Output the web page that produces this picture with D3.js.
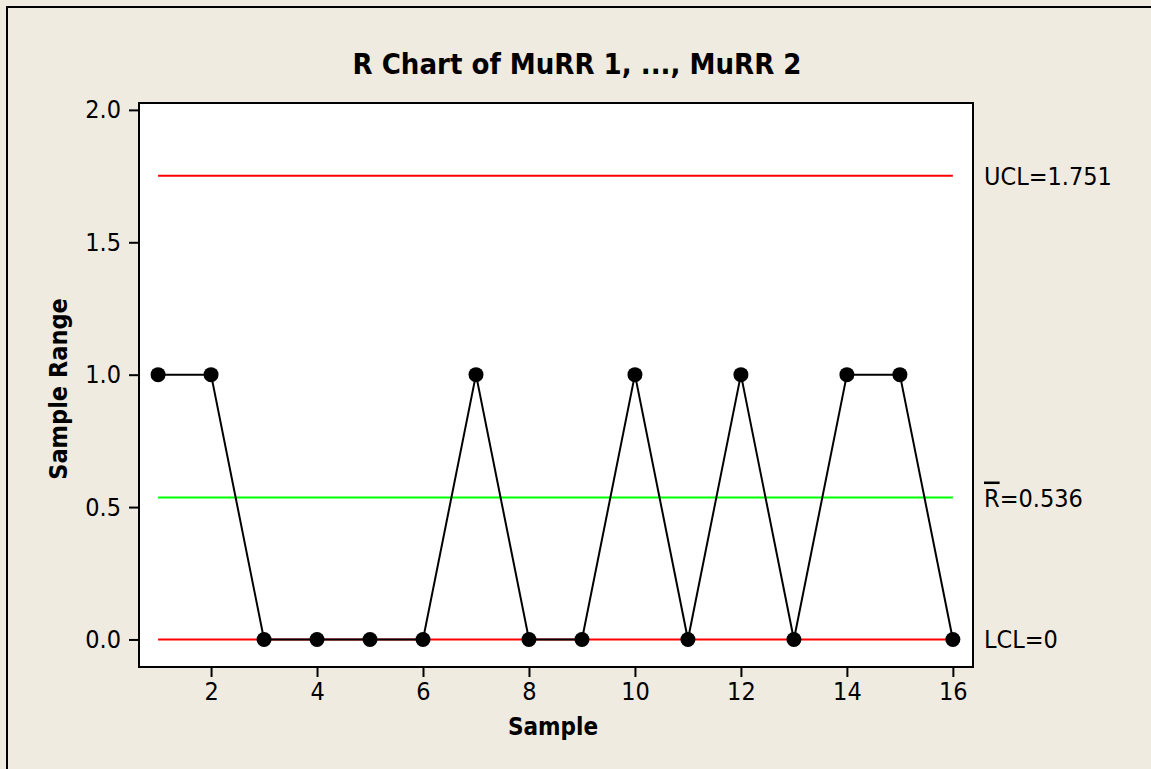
<!DOCTYPE html>
<html>
<head>
<meta charset="utf-8">
<script src="https://cdn.jsdelivr.net/npm/d3@7"></script>
<style>
  html, body { margin: 0; padding: 0; background: #F0EBE1; }
  svg text { font-family: "DejaVu Sans Condensed", "DejaVu Sans", sans-serif; font-stretch: condensed; fill: #000; }
</style>
</head>
<body>
<div id="chart"></div>
<script>
// dados do gráfico R
const samples = [1, 2, 3, 4, 5, 6, 7, 8, 9, 10, 11, 12, 13, 14, 15, 16];
const ranges = [1, 1, 0, 0, 0, 0, 1, 0, 0, 1, 0, 1, 0, 1, 1, 0];
const xTicks = [2, 4, 6, 8, 10, 12, 14, 16];
const yTicks = [0.0, 0.5, 1.0, 1.5, 2.0];
const limits = [
  { name: 'UCL', label: 'UCL=1.751', value: 1.751, color: '#FF0000' },
  { name: 'Rbar', label: '=0.536', value: 0.536, color: '#00FF00' },
  { name: 'LCL', label: 'LCL=0', value: 0, color: '#FF0000' }
];

const W = 1151, H = 769;
const plot = { left: 139, right: 973, top: 103, bottom: 667 };

const svg = d3.select('#chart').append('svg')
  .attr('width', W).attr('height', H);

// fundo e borda externa
svg.append('rect').attr('width', W).attr('height', H).attr('fill', '#F0EBE1');
svg.append('path')
  .attr('d', `M7,${H} V7 H${W}`)
  .attr('fill', 'none').attr('stroke', '#000').attr('stroke-width', 2);

const x = d3.scaleLinear().domain([0.64, 16.38]).range([plot.left, plot.right]);
const y = d3.scaleLinear().domain([-0.104, 2.026]).range([plot.bottom, plot.top]);

// área do gráfico
svg.append('rect')
  .attr('x', plot.left).attr('y', plot.top)
  .attr('width', plot.right - plot.left).attr('height', plot.bottom - plot.top)
  .attr('fill', '#fff');

// linhas de controle
svg.selectAll('.limit').data(limits).enter().append('line')
  .attr('x1', x(samples[0])).attr('x2', x(samples[samples.length - 1]))
  .attr('y1', d => y(d.value)).attr('y2', d => y(d.value))
  .attr('stroke', d => d.color).attr('stroke-width', 2);

// série
const line = d3.line().x((d, i) => x(samples[i])).y(d => y(d));
svg.append('path').datum(ranges)
  .attr('d', line).attr('fill', 'none')
  .attr('stroke', '#000').attr('stroke-width', 2);

svg.selectAll('.pt').data(ranges).enter().append('circle')
  .attr('cx', (d, i) => x(samples[i])).attr('cy', d => y(d))
  .attr('r', 7.5).attr('fill', '#000');

// moldura
svg.append('rect')
  .attr('x', plot.left).attr('y', plot.top)
  .attr('width', plot.right - plot.left).attr('height', plot.bottom - plot.top)
  .attr('fill', 'none').attr('stroke', '#000').attr('stroke-width', 2);

// eixos
const xAxis = svg.append('g')
  .attr('transform', `translate(0,${plot.bottom})`)
  .call(d3.axisBottom(x).tickValues(xTicks).tickSize(10).tickPadding(5).tickFormat(d3.format('d')));
const yAxis = svg.append('g')
  .attr('transform', `translate(${plot.left},0)`)
  .call(d3.axisLeft(y).tickValues(yTicks).tickSize(10).tickPadding(8).tickFormat(d3.format('.1f')));
[xAxis, yAxis].forEach(g => {
  g.select('.domain').remove();
  g.selectAll('.tick line').attr('stroke', '#000').attr('stroke-width', 2);
  g.selectAll('.tick text').attr('font-size', 25)
    .style('font-family', '"DejaVu Sans Condensed", "DejaVu Sans", sans-serif');
});

// rótulos à direita
const labels = svg.selectAll('.lim-label').data(limits).enter().append('text')
  .attr('x', 984).attr('y', d => y(d.value))
  .attr('dy', '0.36em').attr('font-size', 25);
labels.each(function (d) {
  const t = d3.select(this);
  if (d.name === 'Rbar') {
    t.append('tspan').text('R').style('text-decoration', 'overline');
    t.append('tspan').text(d.label);
  } else {
    t.text(d.label);
  }
});

// títulos
svg.append('text')
  .attr('x', 577).attr('y', 74)
  .attr('text-anchor', 'middle').attr('font-size', 29).attr('font-weight', 'bold')
  .text('R Chart of MuRR 1, ..., MuRR 2');

svg.append('text')
  .attr('x', 553).attr('y', 735)
  .attr('text-anchor', 'middle').attr('font-size', 24).attr('font-weight', 'bold')
  .text('Sample');

svg.append('text')
  .attr('transform', 'translate(67,389) rotate(-90)')
  .attr('text-anchor', 'middle').attr('font-size', 25).attr('font-weight', 'bold')
  .text('Sample Range');
</script>
</body>
</html>
